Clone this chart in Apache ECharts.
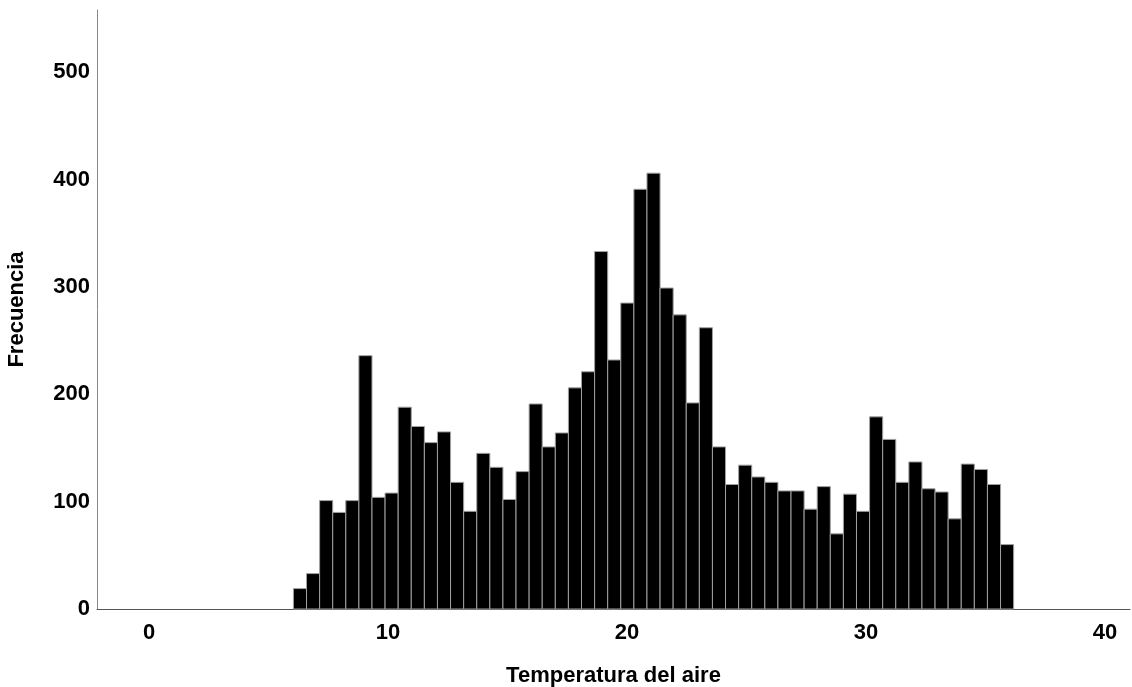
<!DOCTYPE html>
<html>
<head>
<meta charset="utf-8">
<script src="https://cdn.jsdelivr.net/npm/echarts@6/dist/echarts.min.js"></script>
<style>
html,body{margin:0;padding:0;background:#fff;}
#chart{width:1132px;height:687px;}
</style>
</head>
<body>
<div id="chart"></div>
<script>
// Histogram data
const binStart = 6.04;     // left edge of first bin (°C)
const binWidth = 0.548;    // bin width (°C)
const counts = [19,33,101,90,101,236,104,108,188,170,
                155,165,118,91,145,132,102,128,191,151,
                164,206,221,333,232,285,391,406,299,274,
                192,262,151,116,134,123,118,110,110,93,
                114,70,107,91,179,158,118,137,112,109,
                84,135,130,116,60];
const xTicks = [0,10,20,30,40];
const yTicks = [0,100,200,300,400,500];
const xTitle = 'Temperatura del aire';
const yTitle = 'Frecuencia';

const bins = counts.map((c, i) => [binStart + i * binWidth, binStart + (i + 1) * binWidth, c]);

const font = 'Liberation Sans, Arial, sans-serif';
const chart = echarts.init(document.getElementById('chart'), null, {renderer: 'canvas'});
chart.setOption({
  backgroundColor: '#fff',
  animation: false,
  grid: {left: 97, right: 2, top: 10, bottom: 78, containLabel: false, outerBoundsMode: 'none'},
  xAxis: {
    type: 'value',
    min: -2.18, max: 41.05,
    name: xTitle, nameLocation: 'middle', nameGap: 56,
    nameTextStyle: {fontFamily: font, fontSize: 22, fontWeight: 'bold', color: '#000'},
    axisLine: {show: true, onZero: false, lineStyle: {color: '#555', width: 1}},
    axisTick: {show: false},
    splitLine: {show: false},
    axisLabel: {customValues: xTicks, fontFamily: font, fontSize: 22, fontWeight: 'bold', color: '#000', margin: 13}
  },
  yAxis: {
    type: 'value',
    min: 0, max: 558,
    name: yTitle, nameLocation: 'middle', nameGap: 69, nameRotate: 90,
    nameTextStyle: {fontFamily: font, fontSize: 22, fontWeight: 'bold', color: '#000'},
    axisLine: {show: true, onZero: false, lineStyle: {color: '#888', width: 1}},
    axisTick: {show: false},
    splitLine: {show: false},
    axisLabel: {customValues: yTicks, fontFamily: font, fontSize: 22, fontWeight: 'bold', color: '#000', margin: 7}
  },
  series: [{
    type: 'custom',
    data: bins,
    encode: {x: [0, 1], y: 2},
    renderItem: function (params, api) {
      const p0 = api.coord([api.value(0), 0]);
      const p1 = api.coord([api.value(1), api.value(2)]);
      return {
        type: 'rect',
        shape: {x: p0[0], y: p1[1], width: p1[0] - p0[0], height: p0[1] - p1[1]},
        style: {fill: '#000', stroke: '#a0a0a0', lineWidth: 1}
      };
    }
  }]
});
</script>
</body>
</html>
